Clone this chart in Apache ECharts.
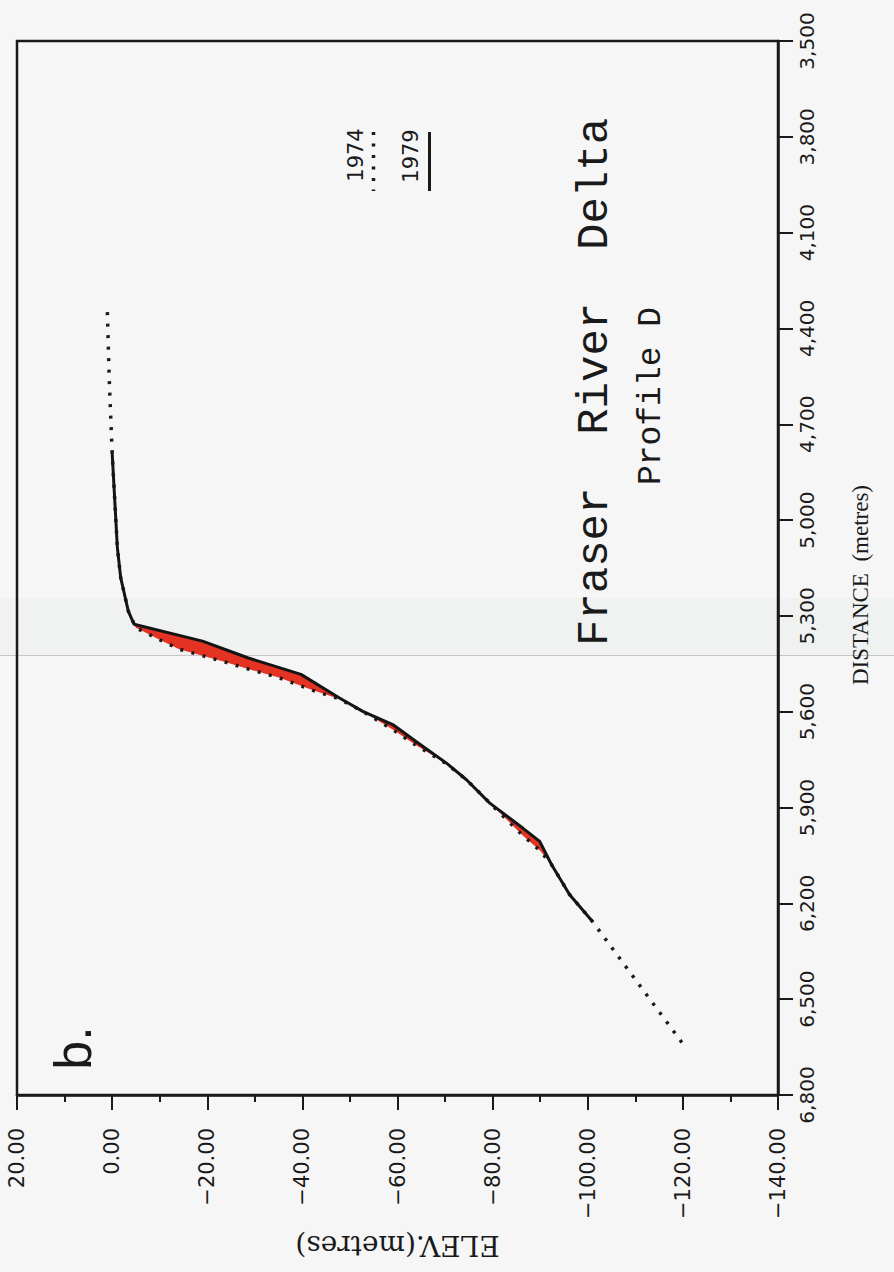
<!DOCTYPE html>
<html>
<head>
<meta charset="utf-8">
<script src="https://cdn.jsdelivr.net/npm/echarts@6/dist/echarts.min.js"></script>
<style>
  html, body { margin: 0; padding: 0; background: #f6f6f6; }
  #chart { width: 894px; height: 1272px; }
</style>
</head>
<body>
<div id="chart"></div>
<script>
// Fraser River Delta, Profile D: bed elevation (m) against distance along the profile (m)
const dist1974 = [4349, 4563, 4788, 5086, 5180, 5285, 5337, 5374, 5404, 5442, 5464, 5494, 5533, 5560,
                  5599, 5656, 5705, 5763, 5813, 5886, 5988, 6034, 6079, 6173, 6257, 6640];
const elev1974 = [1.0, 0.6, 0.0, -1.1, -1.8, -3.4, -5.0, -9.9, -14.1, -23.2, -28.1, -35.2, -42.2, -47.8,
                  -52.7, -59.0, -63.9, -70.3, -74.5, -79.4, -86.4, -89.9, -92.4, -96.2, -101.0, -120.0];

const dist1979 = [4788, 5086, 5180, 5285, 5326, 5379, 5431, 5483, 5557, 5599, 5640, 5693, 5761, 5813,
                  5886, 5965, 6006, 6079, 6173, 6257];
const elev1979 = [0.0, -1.1, -1.8, -3.4, -4.6, -19.0, -28.5, -39.7, -47.8, -52.7, -59.0, -63.9, -70.3, -74.5,
                  -79.4, -86.4, -89.9, -92.4, -96.2, -101.0];

// reach of the delta front where the two surveys are shaded apart
const changeReach = [5320, 6260];

// axis extents and tick steps
const elevMin = -140, elevMax = 20, elevStep = 20;
const distMin = 3500, distMax = 6800, distStep = 300;

const surveyYears = ['1974', '1979'];

const ink = '#1a1a1a';
const fillRed = '#e53323';

// distance axis runs from 0 at distMin so its ticks land on 3,500, 3,800, ...
const pts = (d, e) => d.map((v, i) => [e[i], v - distMin]);
const line1974 = pts(dist1974, elev1974);
const line1979 = pts(dist1979, elev1979);

const fmtElev = v => (v < 0 ? '\u2212' : '') + Math.abs(v).toFixed(2);
const fmtDist = v => (v + distMin).toLocaleString('en-US');

const chart = echarts.init(document.getElementById('chart'), null, { renderer: 'svg' });

const rot = Math.PI / 2;
const txt = (x, y, text, font, r) => ({
  type: 'text', x, y, rotation: r === undefined ? rot : r, z: 10,
  style: {
    text, font, fill: ink,
    align: 'center', verticalAlign: 'middle',
    textAlign: 'center', textVerticalAlign: 'middle'
  }
});

chart.setOption({
  backgroundColor: '#f6f6f6',
  animation: false,
  grid: {
    left: 17, right: 116, top: 41, bottom: 177,
    show: true, borderColor: ink, borderWidth: 2.5, backgroundColor: 'transparent'
  },
  xAxis: {
    type: 'value',
    inverse: true,
    min: elevMin, max: elevMax, interval: elevStep,
    position: 'bottom',
    axisLine: { show: true, onZero: false, lineStyle: { color: ink, width: 2.5 } },
    axisTick: { show: true, length: 15, lineStyle: { color: ink, width: 2 } },
    minorTick: { show: true, splitNumber: 2, length: 7, lineStyle: { color: ink, width: 2 } },
    splitLine: { show: false },
    minorSplitLine: { show: false },
    axisLabel: {
      rotate: 90, margin: 33, formatter: fmtElev,
      fontFamily: 'DejaVu Sans', fontSize: 21, color: ink
    },
    name: 'ELEV.(metres)',
    nameLocation: 'middle',
    nameRotate: 180,
    nameGap: 136,
    nameTextStyle: { fontFamily: 'DejaVu Serif', fontSize: 28, color: ink }
  },
  yAxis: {
    type: 'value',
    inverse: true,
    min: 0, max: distMax - distMin, interval: distStep,
    position: 'right',
    axisLine: { show: true, onZero: false, lineStyle: { color: ink, width: 2.5 } },
    axisTick: { show: true, length: 15, lineStyle: { color: ink, width: 2 } },
    splitLine: { show: false },
    axisLabel: {
      rotate: 90, margin: 19, formatter: fmtDist,
      fontFamily: 'DejaVu Sans', fontSize: 20, color: ink
    }
  },
  graphic: [
    // fold crease across the sheet
    { type: 'rect', z: -1, shape: { x: 0, y: 598, width: 894, height: 57 },
      style: { fill: 'rgba(190,208,200,0.1)' } },
    { type: 'line', z: -1, shape: { x1: 0, y1: 655.5, x2: 894, y2: 655.5 },
      style: { stroke: 'rgba(110,110,110,0.35)', lineWidth: 1 } },

    txt(595, 382, 'Fraser  River  Delta', '44px "Liberation Mono"'),
    txt(651, 396, 'Profile D', '33px "Liberation Mono"'),
    txt(860, 585, 'DISTANCE  (metres)', '23px "Liberation Serif"'),
    txt(73, 1048, 'b.', '52px "Liberation Sans"'),

    // survey key
    txt(356, 155, surveyYears[0], '21px "DejaVu Sans"'),
    { type: 'line', z: 10, shape: { x1: 373.5, y1: 132, x2: 373.5, y2: 191 },
      style: { stroke: ink, lineWidth: 3.5, lineDash: [3, 8.5] } },
    txt(411, 156, surveyYears[1], '21px "DejaVu Sans"'),
    { type: 'line', z: 10, shape: { x1: 429.5, y1: 132, x2: 429.5, y2: 191 },
      style: { stroke: ink, lineWidth: 3 } }
  ],
  series: [
    {
      // shaded change between the two surveys
      type: 'custom',
      silent: true,
      z: 2,
      data: [[0, 0]],
      renderItem: (params, api) => {
        const poly = [];
        line1979.forEach((p, i) => {
          if (dist1979[i] >= changeReach[0] && dist1979[i] <= changeReach[1]) poly.push(api.coord(p));
        });
        for (let i = line1974.length - 1; i >= 0; i--) {
          if (dist1974[i] >= changeReach[0] && dist1974[i] <= changeReach[1]) poly.push(api.coord(line1974[i]));
        }
        return { type: 'polygon', shape: { points: poly }, style: { fill: fillRed } };
      }
    },
    {
      name: surveyYears[0],
      type: 'line',
      z: 3,
      data: line1974,
      showSymbol: false,
      lineStyle: { color: ink, width: 3.5, type: [3, 8.5], cap: 'butt' }
    },
    {
      name: surveyYears[1],
      type: 'line',
      z: 4,
      data: line1979,
      showSymbol: false,
      lineStyle: { color: '#141414', width: 3 }
    }
  ]
});
</script>
</body>
</html>
